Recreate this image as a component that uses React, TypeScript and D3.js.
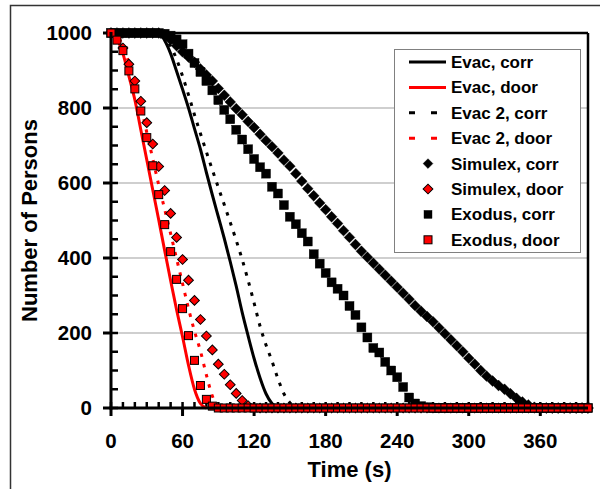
import React from "react";
import * as d3 from "d3";

const W = 600;
const H = 489;
const PLOT = { left: 111, right: 588, top: 33, bottom: 408 };

// Seconds between successive samples in every series
const STEP = 5;

const xTicks = [0, 60, 120, 180, 240, 300, 360];
const yTicks = [0, 200, 400, 600, 800, 1000];
const yGrid = [200, 400, 600, 800];

// Evac model output (persons remaining), sampled every 5 s from t = 0
const evacCorr = [
  1000, 1000, 1000, 1000, 1000, 1000, 1000, 1000, 1000,
  980, 945, 898, 850, 800, 745, 690, 628, 568, 510, 452,
  390, 325, 255, 192, 132, 80, 38, 12, 2, 0,
];
const evacDoor = [
  1000, 985, 945, 885, 822, 742, 662, 582, 502, 420, 340,
  262, 190, 114, 50, 12, 0,
];
const evac2Corr = [
  1000, 1000, 1000, 1000, 1000, 1000, 1000, 1000, 1000,
  990, 965, 930, 885, 835, 782, 732, 683, 635, 588, 542,
  495, 447, 396, 340, 280, 218, 168, 125, 78, 38, 14, 2, 0,
];
const evac2Door = [
  1000, 992, 965, 920, 865, 805, 735, 665, 595, 530, 465,
  398, 332, 265, 205, 152, 88, 32, 5, 0,
];

// Simulex and buildingEXODUS output, sampled every 5 s from t = 0 to 400
const simulexCorr = [
  1000, 1000, 1000, 1000, 1000, 1000, 1000, 1000, 1000,
  995, 982, 966, 950, 936, 922, 904, 888, 872, 852, 834,
  816, 798, 782, 764, 748, 730, 713, 697, 680, 661, 645,
  625, 605, 585, 566, 547, 529, 510, 492, 473, 455,
  436, 418, 402, 386, 370, 354, 338, 322, 306, 290,
  273, 258, 244, 230, 214, 198, 182, 166, 150, 133,
  117, 100, 85, 72, 60, 50, 38, 26, 16, 8, 2,
  0, 0, 0, 0, 0, 0, 0, 0, 0,
];
const simulexDoor = [
  1000, 990, 960, 917, 872, 818, 761, 704, 644, 580, 519,
  455, 396, 341, 287, 236, 192, 155, 117, 90, 62, 39,
  20, 6,
  0, 0, 0, 0, 0, 0, 0, 0, 0, 0,
  0, 0, 0, 0, 0, 0, 0, 0, 0, 0,
  0, 0, 0, 0, 0, 0, 0, 0, 0, 0,
  0, 0, 0, 0, 0, 0, 0, 0, 0, 0,
  0, 0, 0, 0, 0, 0, 0, 0, 0, 0,
  0, 0, 0, 0, 0, 0, 0,
];
const exodusCorr = [
  1000, 1000, 1000, 1000, 1000, 1000, 1000, 1000, 1000,
  998, 993, 983, 970, 945, 920, 896, 872, 847, 821, 795,
  770, 742, 716, 690, 664, 642, 625, 590, 572, 541, 510,
  490, 466, 444, 410, 385, 360, 335, 318, 300, 272,
  248, 215, 188, 160, 148, 123, 100, 82, 56, 28,
  12, 5, 2, 0, 0, 0, 0, 0, 0, 0,
  0, 0, 0, 0, 0, 0, 0, 0, 0, 0, 0,
  0, 0, 0, 0, 0, 0, 0, 0, 0,
];
const exodusDoor = [
  1000, 981, 953, 899, 851, 792, 721, 646, 569, 489, 417,
  343, 265, 193, 127, 60, 23, 5,
  0, 0, 0, 0, 0, 0, 0, 0, 0, 0,
  0, 0, 0, 0, 0, 0, 0, 0, 0, 0,
  0, 0, 0, 0, 0, 0, 0, 0, 0, 0,
  0, 0, 0, 0, 0, 0, 0, 0, 0, 0,
  0, 0, 0, 0, 0, 0, 0, 0, 0, 0,
  0, 0, 0, 0, 0, 0, 0, 0, 0, 0,
  0, 0, 0,
];

type Kind = "line" | "diamond" | "square";
interface Series {
  name: string;
  values: number[];
  kind: Kind;
  color: string;
  dashed?: boolean;
}

const series: Series[] = [
  { name: "Evac, corr", values: evacCorr, kind: "line", color: "#000000" },
  { name: "Evac, door", values: evacDoor, kind: "line", color: "#ff0000" },
  { name: "Evac 2, corr", values: evac2Corr, kind: "line", color: "#000000", dashed: true },
  { name: "Evac 2, door", values: evac2Door, kind: "line", color: "#ff0000", dashed: true },
  { name: "Simulex, corr", values: simulexCorr, kind: "diamond", color: "#000000" },
  { name: "Simulex, door", values: simulexDoor, kind: "diamond", color: "#ff0000" },
  { name: "Exodus, corr", values: exodusCorr, kind: "square", color: "#000000" },
  { name: "Exodus, door", values: exodusDoor, kind: "square", color: "#ff0000" },
];

const FONT = "'Liberation Sans', Arial, Helvetica, sans-serif";

const x = d3.scaleLinear().domain([0, 400]).range([PLOT.left, PLOT.right]);
const y = d3.scaleLinear().domain([0, 1000]).range([PLOT.bottom, PLOT.top]);

const diamondPlot = d3.symbol().type(d3.symbolSquare).size(58)() as string;
const diamondKey = d3.symbol().type(d3.symbolSquare).size(48)() as string;

function Marker({
  kind,
  color,
  cx,
  cy,
  inKey = false,
}: {
  kind: Kind;
  color: string;
  cx: number;
  cy: number;
  inKey?: boolean;
}) {
  const isBlack = color === "#000000";
  const sw = isBlack ? 0.4 : 1;
  if (kind === "diamond") {
    return (
      <path
        d={isBlack && !inKey ? diamondPlot : diamondKey}
        transform={`translate(${cx},${cy}) rotate(45)`}
        fill={color}
        stroke="#000"
        strokeWidth={sw}
      />
    );
  }
  const side = isBlack && !inKey ? 9 : 8;
  return (
    <rect
      x={cx - side / 2}
      y={cy - side / 2}
      width={side}
      height={side}
      fill={color}
      stroke="#000"
      strokeWidth={sw}
    />
  );
}

export default function App() {
  const line = d3
    .line<number>()
    .x((_, i) => x(i * STEP))
    .y((d) => y(d))
    .curve(d3.curveMonotoneX);

  const minorX = d3.range(0, 401, 10);
  const minorY = d3.range(0, 1001, 50);

  const legendX = 394;
  const legendY = 49;
  const rowH = 25.4;

  return (
    <svg
      width={W}
      height={H}
      viewBox={`0 0 ${W} ${H}`}
      style={{ position: "absolute", left: 0, top: 0, display: "block", background: "#ffffff" }}
      fontFamily={FONT}
      fontWeight="bold"
    >
      <rect x={0} y={0} width={W} height={H} fill="#ffffff" />
      {/* outer chart frame */}
      <rect x={10.5} y={5.5} width={620} height={520} fill="none" stroke="#333333" strokeWidth={1.5} />

      {/* gridlines */}
      {yGrid.map((v) => (
        <line key={`g${v}`} x1={PLOT.left} x2={PLOT.right} y1={y(v)} y2={y(v)} stroke="#bfbfbf" strokeWidth={1.6} />
      ))}

      {/* plot frame top & right */}
      <line x1={PLOT.left} x2={PLOT.right} y1={PLOT.top} y2={PLOT.top} stroke="#000" strokeWidth={2.5} />
      <line x1={PLOT.right} x2={PLOT.right} y1={PLOT.top} y2={PLOT.bottom} stroke="#000" strokeWidth={2.5} />

      {/* minor ticks (inside) */}
      {minorX.map((v) => (
        <line key={`mx${v}`} x1={x(v)} x2={x(v)} y1={PLOT.bottom} y2={PLOT.bottom - 6} stroke="#000" strokeWidth={2.5} />
      ))}
      {minorY.map((v) => (
        <line key={`my${v}`} x1={PLOT.left} x2={PLOT.left + 7} y1={y(v)} y2={y(v)} stroke="#000" strokeWidth={2.5} />
      ))}
      {/* major ticks (outside) */}
      {xTicks.map((v) => (
        <line key={`tx${v}`} x1={x(v)} x2={x(v)} y1={PLOT.bottom} y2={PLOT.bottom + 8} stroke="#000" strokeWidth={3} />
      ))}
      {yTicks.map((v) => (
        <line key={`ty${v}`} x1={PLOT.left - 8} x2={PLOT.left} y1={y(v)} y2={y(v)} stroke="#000" strokeWidth={3} />
      ))}

      {/* series */}
      {series.map((s) =>
        s.kind === "line" ? (
          <path
            key={s.name}
            d={line(s.values) as string}
            fill="none"
            stroke={s.color}
            strokeWidth={3}
            strokeDasharray={s.dashed ? "3.5 7" : undefined}
          />
        ) : (
          <g key={s.name}>
            {s.values.map((v, i) => (
              <Marker key={i} kind={s.kind} color={s.color} cx={x(i * STEP)} cy={y(v)} />
            ))}
          </g>
        )
      )}

      {/* axes */}
      <line x1={PLOT.left} x2={PLOT.left} y1={PLOT.top - 1} y2={PLOT.bottom + 1.5} stroke="#000" strokeWidth={3} />
      <line x1={PLOT.left - 1.5} x2={PLOT.right} y1={PLOT.bottom} y2={PLOT.bottom} stroke="#000" strokeWidth={3} />

      {/* tick labels */}
      {yTicks.map((v) => (
        <text key={`ly${v}`} x={92} y={y(v) + 7.3} textAnchor="end" fontSize={20.5} fill="#000">
          {v}
        </text>
      ))}
      {xTicks.map((v) => (
        <text key={`lx${v}`} x={x(v)} y={448} textAnchor="middle" fontSize={20.5} fill="#000">
          {v}
        </text>
      ))}

      {/* axis titles */}
      <text x={(PLOT.left + PLOT.right) / 2} y={477} textAnchor="middle" fontSize={22} fill="#000">
        Time (s)
      </text>
      <text
        transform={`translate(37,${(PLOT.top + PLOT.bottom) / 2}) rotate(-90)`}
        textAnchor="middle"
        fontSize={22}
        fill="#000"
      >
        Number of Persons
      </text>

      {/* legend */}
      <rect x={legendX + 0.5} y={legendY + 0.5} width={186} height={203} fill="#ffffff" stroke="#808080" strokeWidth={1} />
      {series.map((s, i) => {
        const cy = legendY + 13 + i * rowH;
        return (
          <g key={`lg${s.name}`}>
            {s.kind === "line" ? (
              <line
                x1={409}
                x2={446}
                y1={cy}
                y2={cy}
                stroke={s.color}
                strokeWidth={3}
                strokeDasharray={s.dashed ? "6 16" : undefined}
              />
            ) : (
              <Marker kind={s.kind} color={s.color} cx={428} cy={cy} inKey />
            )}
            <text x={451} y={cy + 6} fontSize={17} fill="#000">
              {s.name}
            </text>
          </g>
        );
      })}
    </svg>
  );
}
